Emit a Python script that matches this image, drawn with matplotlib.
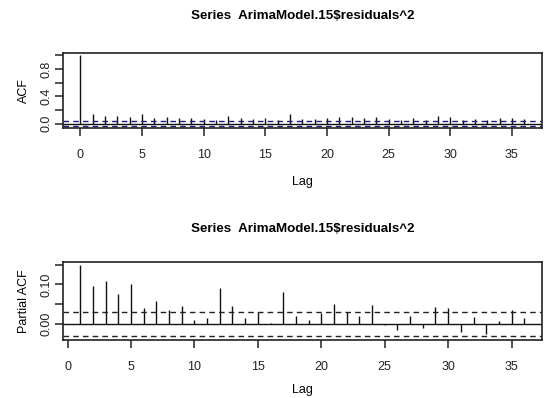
import numpy as np
import matplotlib
matplotlib.use("Agg")
import matplotlib.pyplot as plt

plt.rcParams['font.family'] = ['Liberation Sans Narrow', 'Liberation Sans', 'DejaVu Sans']

# ACF of squared residuals, lags 0..36
acf_lags = list(range(0, 37))
acf_vals = [1.0, 0.134, 0.105, 0.115, 0.096, 0.134, 0.082, 0.100, 0.086, 0.086,
            0.072, 0.048, 0.115, 0.086, 0.072, 0.086, 0.048, 0.134, 0.072, 0.062,
            0.086, 0.100, 0.100, 0.086, 0.100, 0.062, 0.058, 0.082, 0.058, 0.105,
            0.096, 0.048, 0.062, 0.048, 0.082, 0.086, 0.067]

# PACF, lags 1..36
pacf_lags = list(range(1, 37))
pacf_vals = [0.150, 0.096, 0.108, 0.075, 0.102, 0.040, 0.057, 0.034, 0.045, 0.011,
             0.014, 0.091, 0.045, 0.016, 0.030, 0.002, 0.081, 0.019, 0.010, 0.028,
             0.051, 0.030, 0.021, 0.049, -0.004, -0.015, 0.019, -0.010, 0.043, 0.040,
             -0.020, 0.017, -0.026, 0.007, 0.034, 0.015]

clim = 0.031
title = "Series  ArimaModel.15$residuals^2"

fig = plt.figure(figsize=(5.45, 3.98), dpi=100)
ax1 = fig.add_axes([0.1147, 0.6776, 0.8798, 0.19])
ax2 = fig.add_axes([0.1147, 0.1457, 0.8798, 0.1952])


def style(ax):
    for s in ax.spines.values():
        s.set_linewidth(1.2)
        s.set_color('#222222')
    ax.tick_params(axis='both', direction='out', length=6, width=1.1,
                   labelsize=9, colors='#222222')
    ax.tick_params(axis='x', pad=9)
    ax.tick_params(axis='y', labelrotation=90, pad=1.5)
    for lab in ax.get_yticklabels():
        lab.set_va('center')


# top: ACF
ax1.vlines(acf_lags, 0, acf_vals, color='#111111', lw=1.0)
ax1.axhline(0, color='#111111', lw=1.0)
ax1.axhline(clim, color='#1c1c80', lw=1.0, ls=(0, (4, 3)))
ax1.axhline(-clim, color='#1c1c80', lw=1.0, ls=(0, (4, 3)))
ax1.set_xlim(-1.44, 37.44)
ax1.set_ylim(-0.07, 1.04)
ax1.set_xticks([0, 5, 10, 15, 20, 25, 30, 35])
ax1.set_yticks([0, 0.2, 0.4, 0.6, 0.8, 1.0])
ax1.set_yticklabels(['0.0', '', '0.4', '', '0.8', ''])
ax1.set_title(title, fontsize=9.6, fontweight='bold', pad=24)
ax1.set_xlabel('Lag', fontsize=9, labelpad=11)
ax1.set_ylabel('ACF', fontsize=9, labelpad=7.5)
style(ax1)

# bottom: PACF
ax2.vlines(pacf_lags, 0, pacf_vals, color='#111111', lw=1.0)
ax2.axhline(0, color='#111111', lw=1.0)
ax2.axhline(clim, color='#222222', lw=1.0, ls=(0, (4, 3)))
ax2.axhline(-clim, color='#222222', lw=1.0, ls=(0, (4, 3)))
ax2.set_xlim(-0.4, 37.4)
ax2.set_ylim(-0.041, 0.156)
ax2.set_xticks([0, 5, 10, 15, 20, 25, 30, 35])
ax2.set_yticks([0, 0.05, 0.10, 0.15])
ax2.set_yticklabels(['0.00', '', '0.10', ''])
ax2.set_title(title, fontsize=9.6, fontweight='bold', pad=22)
ax2.set_xlabel('Lag', fontsize=9, labelpad=8)
ax2.set_ylabel('Partial ACF', fontsize=9, labelpad=7.5)
style(ax2)

fig.savefig('out.png', dpi=100)
